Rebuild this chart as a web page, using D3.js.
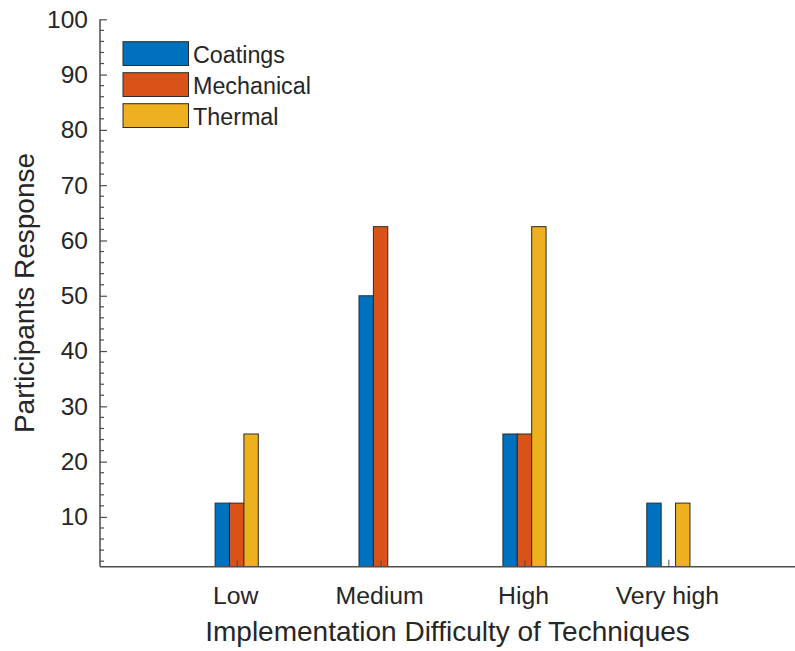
<!DOCTYPE html>
<html>
<head>
<meta charset="utf-8">
<script src="https://cdn.jsdelivr.net/npm/d3@7"></script>
<style>
  html, body { margin: 0; padding: 0; background: #fff; }
  svg { display: block; font-family: "Liberation Sans", Arial, Helvetica, sans-serif; }
</style>
</head>
<body>
<svg id="chart" width="795" height="651"></svg>
<script>
// Survey responses per difficulty level, one array per technique group
const categories = ["Low", "Medium", "High", "Very high"];
const seriesNames = ["Coatings", "Mechanical", "Thermal"];
const coatings   = [12.5, 50, 25, 12.5];
const mechanical = [12.5, 62.5, 25, 0];
const thermal    = [25, 0, 62.5, 12.5];
const seriesColors = ["#0072BD", "#D95319", "#EDB120"];
const yMajorTicks = [10, 20, 30, 40, 50, 60, 70, 80, 90, 100];

const seriesValues = [coatings, mechanical, thermal];

const svg = d3.select("#chart");
const textColor = "#262626";
const axisColor = "#4d4d4d";

// Plot box
const box = { left: 100, right: 795, top: 19.3, bottom: 566.7 };

// Categories sit at positions 1..4 on a numeric x axis
const x = d3.scaleLinear().domain([0.05, 4.88]).range([box.left, box.right]);
const y = d3.scaleLinear().domain([1, 100]).range([box.bottom, box.top]);

const barW = 0.1;            // bar width in category units
const offsets = [-0.1, 0, 0.1];

svg.append("defs").append("clipPath").attr("id", "plotClip")
  .append("rect").attr("x", box.left).attr("y", box.top)
  .attr("width", box.right - box.left).attr("height", box.bottom - box.top);

const bars = svg.append("g").attr("clip-path", "url(#plotClip)");
seriesValues.forEach((vals, s) => {
  bars.selectAll(null)
    .data(vals.map((v, i) => ({ v, i })))
    .enter().append("rect")
    .attr("x", d => x(d.i + 1 + offsets[s] - barW / 2))
    .attr("width", d => x(d.i + 1 + offsets[s] + barW / 2) - x(d.i + 1 + offsets[s] - barW / 2))
    .attr("y", d => y(Math.max(d.v, 0)))
    .attr("height", d => Math.max(0, y(0) - y(d.v)))
    .attr("fill", seriesColors[s])
    .attr("stroke", "#2b2b2b")
    .attr("stroke-width", 1);
});

// Y axis: major ticks with labels, minor ticks every 2 units, all pointing inward
const yAxis = d3.axisLeft(y)
  .tickValues(yMajorTicks)
  .tickSize(-7)
  .tickPadding(12)
  .tickFormat(d3.format("d"));
const yG = svg.append("g").attr("transform", `translate(${box.left},0)`).call(yAxis);
yG.select(".domain").remove();
yG.selectAll(".tick line").attr("stroke", axisColor).attr("stroke-width", 1.2);
yG.selectAll(".tick text")
  .attr("fill", textColor)
  .attr("font-size", 24.5)
  .attr("x", -12)
  .attr("font-family", "Liberation Sans, Arial, sans-serif");

const minorTicks = d3.range(2, 100, 2).filter(v => v % 10 !== 0);
svg.append("g").selectAll("line").data(minorTicks).enter().append("line")
  .attr("x1", box.left).attr("x2", box.left + 4)
  .attr("y1", d => y(d)).attr("y2", d => y(d))
  .attr("stroke", axisColor).attr("stroke-width", 1.2);

// X axis ticks at category centres, pointing inward
const xAxis = d3.axisBottom(x)
  .tickValues(categories.map((c, i) => i + 1))
  .tickSize(-7)
  .tickPadding(20)
  .tickFormat((d, i) => categories[i]);
const xG = svg.append("g").attr("transform", `translate(0,${box.bottom})`).call(xAxis);
xG.select(".domain").remove();
xG.selectAll(".tick line").attr("stroke", axisColor).attr("stroke-width", 1);
xG.selectAll(".tick text")
  .attr("fill", textColor)
  .attr("font-size", 24.8)
  .attr("dy", null)
  .attr("x", -1.5)
  .attr("y", 37.5)
  .attr("font-family", "Liberation Sans, Arial, sans-serif");

// Axis lines
svg.append("line").attr("x1", box.left).attr("x2", box.left).attr("y1", box.top).attr("y2", box.bottom)
  .attr("stroke", axisColor).attr("stroke-width", 1.5);
svg.append("line").attr("x1", box.left).attr("x2", box.right).attr("y1", box.bottom).attr("y2", box.bottom)
  .attr("stroke", axisColor).attr("stroke-width", 1.5);

// Axis titles
svg.append("text")
  .attr("x", (box.left + box.right) / 2).attr("y", 641)
  .attr("text-anchor", "middle")
  .attr("font-size", 28)
  .attr("fill", textColor)
  .text("Implementation Difficulty of Techniques");

svg.append("text")
  .attr("transform", `translate(34,${(box.top + box.bottom) / 2}) rotate(-90)`)
  .attr("text-anchor", "middle")
  .attr("font-size", 28)
  .attr("fill", textColor)
  .text("Participants Response");

// Legend
const legend = svg.append("g").attr("transform", "translate(123,41.7)");
seriesNames.forEach((name, i) => {
  const g = legend.append("g").attr("transform", `translate(0,${i * 31})`);
  g.append("rect")
    .attr("width", 65.5).attr("height", 23.8)
    .attr("fill", seriesColors[i])
    .attr("stroke", "#2b2b2b").attr("stroke-width", 1);
  g.append("text")
    .attr("x", 70).attr("y", 21.3)
    .attr("font-size", 23.3)
    .attr("fill", textColor)
    .text(name);
});
</script>
</body>
</html>
